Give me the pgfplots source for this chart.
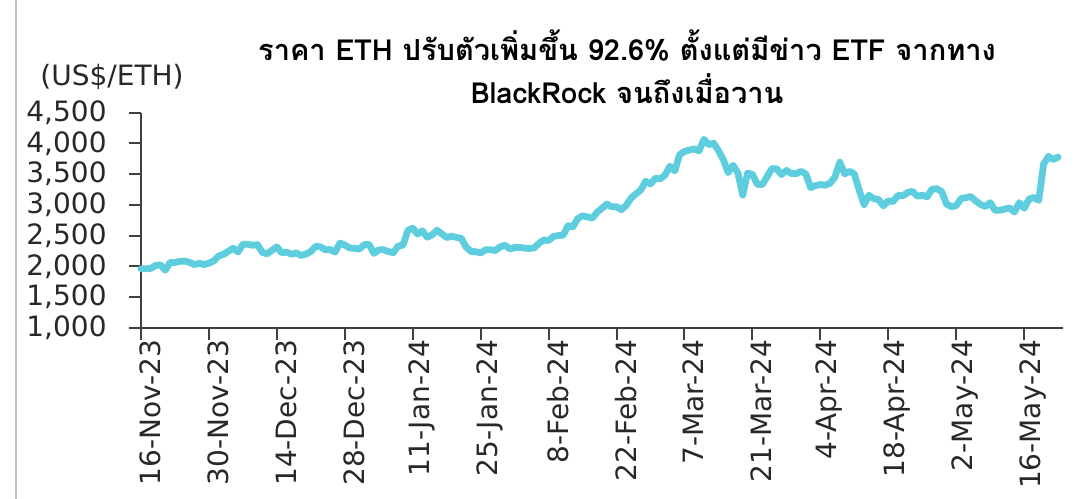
\documentclass[border=0pt]{standalone}
\usepackage{pgfplots}
\pgfplotsset{compat=1.18}
\usepackage{fontspec}
\setmainfont{DejaVu Sans}
\newfontfamily\thaifont[Script=Thai]{Loma}
\definecolor{ethline}{RGB}{94,206,222}
\definecolor{axgray}{RGB}{64,64,64}
\definecolor{txtgray}{RGB}{40,40,40}
\begin{document}
\begin{tikzpicture}
\useasboundingbox (-70.5bp,-85.65bp) rectangle (475bp,163.85bp);
\draw[black!25, line width=0.6bp] (-62.5bp,-85.65bp) -- (-62.5bp,163.85bp);
\begin{axis}[
  at={(0,0)}, anchor=south west,
  scale only axis, width=461bp, height=107.5bp,
  xmin=0, xmax=190, ymin=1000, ymax=4500,
  axis x line=bottom, axis y line=left,
  axis line style={-, axgray, line width=1bp},
  tick style={axgray, line width=1bp},
  tick align=outside, major tick length=6bp,
  xtick={0,14,...,182},
  xticklabels={16-Nov-23,30-Nov-23,14-Dec-23,28-Dec-23,11-Jan-24,25-Jan-24,8-Feb-24,22-Feb-24,7-Mar-24,21-Mar-24,4-Apr-24,18-Apr-24,2-May-24,16-May-24},
  ytick={1000,1500,...,4500},
  scaled y ticks=false,
  /pgf/number format/assume math mode=true,
  /pgf/number format/1000 sep={,},
  ticklabel style={font=\fontsize{14bp}{16bp}\selectfont, text=txtgray},
  yticklabel style={anchor=east, inner sep=0pt, xshift=-11bp},
  xticklabel style={rotate=90, anchor=east, inner sep=0pt, yshift=-4.5bp},
  clip=false,
]
\addplot[ethline, line width=3.4bp, line join=round, line cap=round] coordinates {
(0,1960)(1,1960)(2,1965)(3,2013)(4,2022)(5,1935)(6,2063)(7,2062)(8,2081)(9,2085)
(10,2064)(11,2028)(12,2048)(13,2028)(14,2052)(15,2088)(16,2167)(17,2193)(18,2243)(19,2293)
(20,2233)(21,2358)(22,2359)(23,2342)(24,2353)(25,2225)(26,2203)(27,2260)(28,2315)(29,2220)
(30,2229)(31,2196)(32,2218)(33,2176)(34,2200)(35,2240)(36,2326)(37,2316)(38,2268)(39,2272)
(40,2230)(41,2378)(42,2345)(43,2298)(44,2292)(45,2281)(46,2352)(47,2356)(48,2209)(49,2268)
(50,2268)(51,2239)(52,2222)(53,2330)(54,2344)(55,2585)(56,2619)(57,2524)(58,2577)(59,2472)
(60,2512)(61,2587)(62,2528)(63,2468)(64,2489)(65,2470)(66,2454)(67,2311)(68,2242)(69,2236)
(70,2218)(71,2267)(72,2268)(73,2256)(74,2315)(75,2343)(76,2283)(77,2304)(78,2309)(79,2296)
(80,2290)(81,2298)(82,2372)(83,2428)(84,2420)(85,2486)(86,2500)(87,2506)(88,2659)(89,2643)
(90,2775)(91,2823)(92,2803)(93,2785)(94,2880)(95,2944)(96,3013)(97,2966)(98,2970)(99,2921)
(100,2992)(101,3112)(102,3178)(103,3243)(104,3385)(105,3340)(106,3434)(107,3421)(108,3487)(109,3629)
(110,3553)(111,3817)(112,3869)(113,3892)(114,3911)(115,3878)(116,4066)(117,3980)(118,4004)(119,3881)
(120,3735)(121,3524)(122,3644)(123,3520)(124,3159)(125,3516)(126,3495)(127,3336)(128,3329)(129,3454)
(130,3590)(131,3587)(132,3492)(133,3561)(134,3510)(135,3508)(136,3545)(137,3504)(138,3281)(139,3313)
(140,3331)(141,3319)(142,3352)(143,3454)(144,3694)(145,3506)(146,3545)(147,3503)(148,3240)(149,3004)
(150,3155)(151,3101)(152,3085)(153,2984)(154,3065)(155,3055)(156,3155)(157,3147)(158,3201)(159,3219)
(160,3140)(161,3156)(162,3131)(163,3255)(164,3263)(165,3216)(166,3014)(167,2970)(168,2989)(169,3103)
(170,3117)(171,3136)(172,3064)(173,3006)(174,2974)(175,3036)(176,2910)(177,2912)(178,2930)(179,2950)
(180,2882)(181,3037)(182,2944)(183,3092)(184,3121)(185,3071)(186,3663)(187,3789)(188,3737)(189,3780)
};
\end{axis}
\node[anchor=base west, inner sep=0pt, font=\fontsize{14bp}{16bp}\selectfont, text=txtgray] at (-50.5bp,120.85bp) {(US\$/ETH)};
\node[anchor=base, inner sep=0pt, font=\thaifont\bfseries\fontsize{14.5bp}{17bp}\selectfont] at (243bp,133.35bp) {ราคา ETH ปรับตัวเพิ่มขึ้น 92.6\% ตั้งแต่มีข่าว ETF จากทาง};
\node[anchor=base, inner sep=0pt, font=\thaifont\bfseries\fontsize{14.5bp}{17bp}\selectfont] at (243bp,111.85bp) {BlackRock จนถึงเมื่อวาน};
\end{tikzpicture}
\end{document}
